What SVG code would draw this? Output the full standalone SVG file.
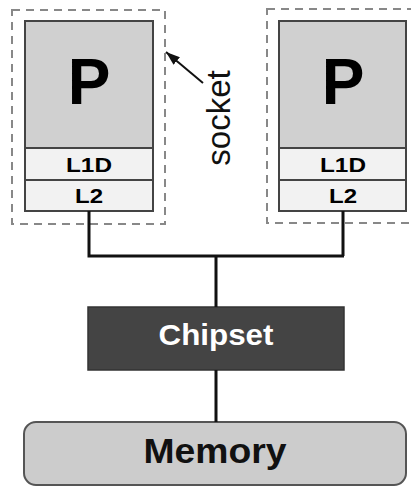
<svg xmlns="http://www.w3.org/2000/svg" width="411" height="487" viewBox="0 0 411 487">
<defs>
<style>
.sock{fill:none;stroke:#888;stroke-width:2;stroke-dasharray:8 6}
.proc{fill:#d0d0d0;stroke:#444;stroke-width:2}
.cache{fill:#f2f2f2;stroke:#444;stroke-width:2}
.wire{fill:none;stroke:#111;stroke-width:3}
text{font-family:"Liberation Sans",Arial,sans-serif;font-weight:bold;text-anchor:middle}
.big{font-size:64px}
.lab{font-size:21px}
</style>
<marker id="ah" viewBox="0 0 14 10" refX="14" refY="5" markerWidth="14" markerHeight="10" markerUnits="userSpaceOnUse" orient="auto">
<path d="M0,0 L14,5 L0,10 z" fill="#111"/>
</marker>
</defs>
<g id="socket-left">
<rect class="sock" x="12" y="10" width="153" height="214"/>
</g>
<g id="socket-right">
<rect class="sock" x="267" y="9" width="160" height="214"/>
</g>
<g id="cpu-left">
<rect class="proc" x="25" y="21" width="128" height="127"/>
<text class="big" x="89" y="104">P</text>
<rect class="cache" x="25" y="148" width="128" height="32"/>
<text class="lab" x="89" y="172" textLength="46" lengthAdjust="spacingAndGlyphs">L1D</text>
<rect class="cache" x="25" y="180" width="128" height="31"/>
<text class="lab" x="89" y="203" textLength="28" lengthAdjust="spacingAndGlyphs">L2</text>
</g>
<g id="cpu-right">
<rect class="proc" x="279" y="21" width="127" height="127"/>
<text class="big" x="343" y="104">P</text>
<rect class="cache" x="279" y="148" width="127" height="32"/>
<text class="lab" x="343" y="172" textLength="46" lengthAdjust="spacingAndGlyphs">L1D</text>
<rect class="cache" x="279" y="180" width="127" height="31"/>
<text class="lab" x="343" y="203" textLength="28" lengthAdjust="spacingAndGlyphs">L2</text>
</g>
<g id="chipset">
<rect x="88" y="307" width="256" height="63" fill="#444" stroke="#333" stroke-width="1.5"/>
<text x="216" y="345" font-size="30" fill="#fff" textLength="115" lengthAdjust="spacingAndGlyphs">Chipset</text>
</g>
<g id="memory">
<rect x="24" y="422" width="382" height="63" rx="12" ry="12" fill="#cccccc" stroke="#555" stroke-width="2"/>
<text x="215" y="463" font-size="35" fill="#111" textLength="143" lengthAdjust="spacingAndGlyphs">Memory</text>
</g>
<g id="socket-label">
<text x="0" y="0" font-size="33" fill="#111" transform="translate(230,118) rotate(-90)" style="font-weight:normal">socket</text>
</g>
<g id="connectors">
<path class="wire" d="M89,211 V256 H344 M343,211 V256 M216,256 V307 M216,370 V422"/>
<line x1="203" y1="83" x2="166" y2="52" stroke="#111" stroke-width="2" marker-end="url(#ah)"/>
</g>
</svg>
